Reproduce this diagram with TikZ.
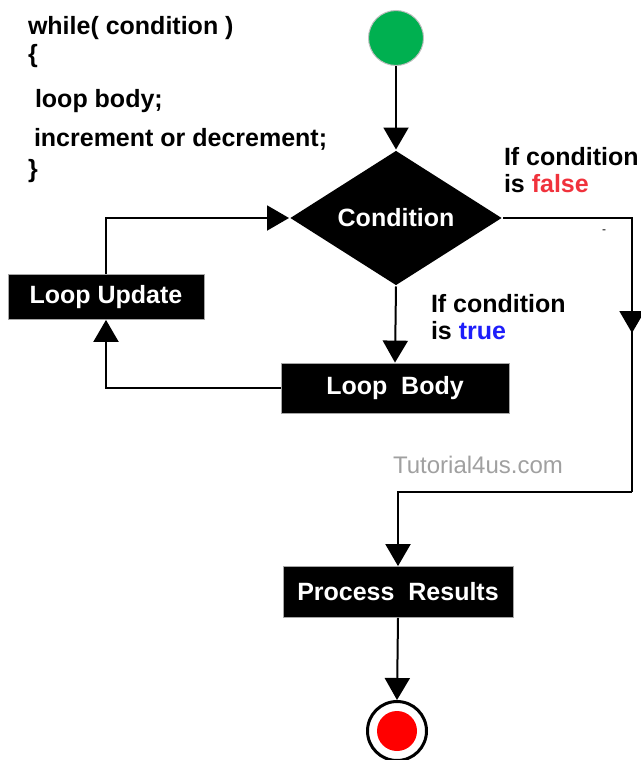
\documentclass[tikz,border=0pt]{standalone}
\usepackage{fontspec}
\setmainfont{Liberation Sans}
\usetikzlibrary{arrows.meta,shapes.geometric}
\definecolor{startgreen}{RGB}{0,176,80}
\definecolor{falsered}{RGB}{240,50,60}
\definecolor{trueblue}{RGB}{30,30,250}
\definecolor{wmgray}{RGB}{160,160,160}
\begin{document}
\begin{tikzpicture}[x=1pt,y=-1pt,
  line width=2pt,
  arr/.style={-{Triangle[width=25pt,length=22pt]}},
  blk/.style={rectangle, fill=black, draw=gray!70, line width=0.8pt, text=white,
    font=\fontsize{25}{30}\selectfont\bfseries, inner sep=0pt},
  lbl/.style={anchor=base west, inner sep=0pt, font=\fontsize{25}{30}\selectfont\bfseries},
]
\useasboundingbox (0,0) rectangle (640,760);

% code text
\node[lbl] (c1) at (27,35) {while( condition )};
\node[lbl] (c2) at (27,63) {\{};
\node[lbl] (c3) at (34,107) {loop body;};
\node[lbl] (c4) at (33,146) {increment or decrement;};
\node[lbl] (c5) at (27,177) {\}};

% nodes
\node[circle, fill=startgreen, draw=gray!50, line width=1pt, minimum size=55pt, inner sep=0pt] (start) at (396,38) {};
\node[diamond, fill=black, minimum width=212pt, minimum height=126pt, inner sep=0pt,
  text=white, font=\fontsize{25}{30}\selectfont\bfseries] (cond) at (396,218) {Condition};
\node[blk, minimum width=196pt, minimum height=45pt] (lu) at (106,297) {Loop Update};
\node[blk, minimum width=228pt, minimum height=50pt] (lb) at (395,388) {Loop\ \ Body};
\node[blk, minimum width=230pt, minimum height=51pt] (pr) at (398,592) {Process\ \ Results};
\node[circle, draw=black, line width=3pt, fill=white, minimum size=59pt, inner sep=0pt] (end) at (397,731) {};
\fill[red] (end.center) circle[radius=20pt];

% labels
\node[lbl] (lf1) at (503,165) {If condition};
\node[lbl] (lf2) at (503,192) {is \textcolor{falsered}{false}};
\node[lbl] (lt1) at (430,312) {If condition};
\node[lbl] (lt2) at (430,339) {is \textcolor{trueblue}{true}};
\node[text=wmgray, font=\fontsize{24}{28}\selectfont, inner sep=0pt] (wm) at (478,465) {Tutorial4us.com};
\node[font=\fontsize{12}{14}\selectfont, inner sep=0pt] (dash) at (604,232) {-};

% connectors
\coordinate (r1) at (632,218);
\coordinate (r2) at (632,492);
\coordinate (rm) at (632,333);
\draw[arr] (start) -- (cond.north);
\draw[arr] (cond.south) -- (lb.north);
\draw[arr] (lb.west) -| (lu.south);
\draw[arr] (lu.north) |- (cond.west);
\draw (cond.east) -- (r1) -- (r2);
\draw[arr] (r1) -- (rm);
\draw[arr] (r2) -| (pr.north);
\draw[arr] (pr.south) -- (end.north);
\end{tikzpicture}
\end{document}
